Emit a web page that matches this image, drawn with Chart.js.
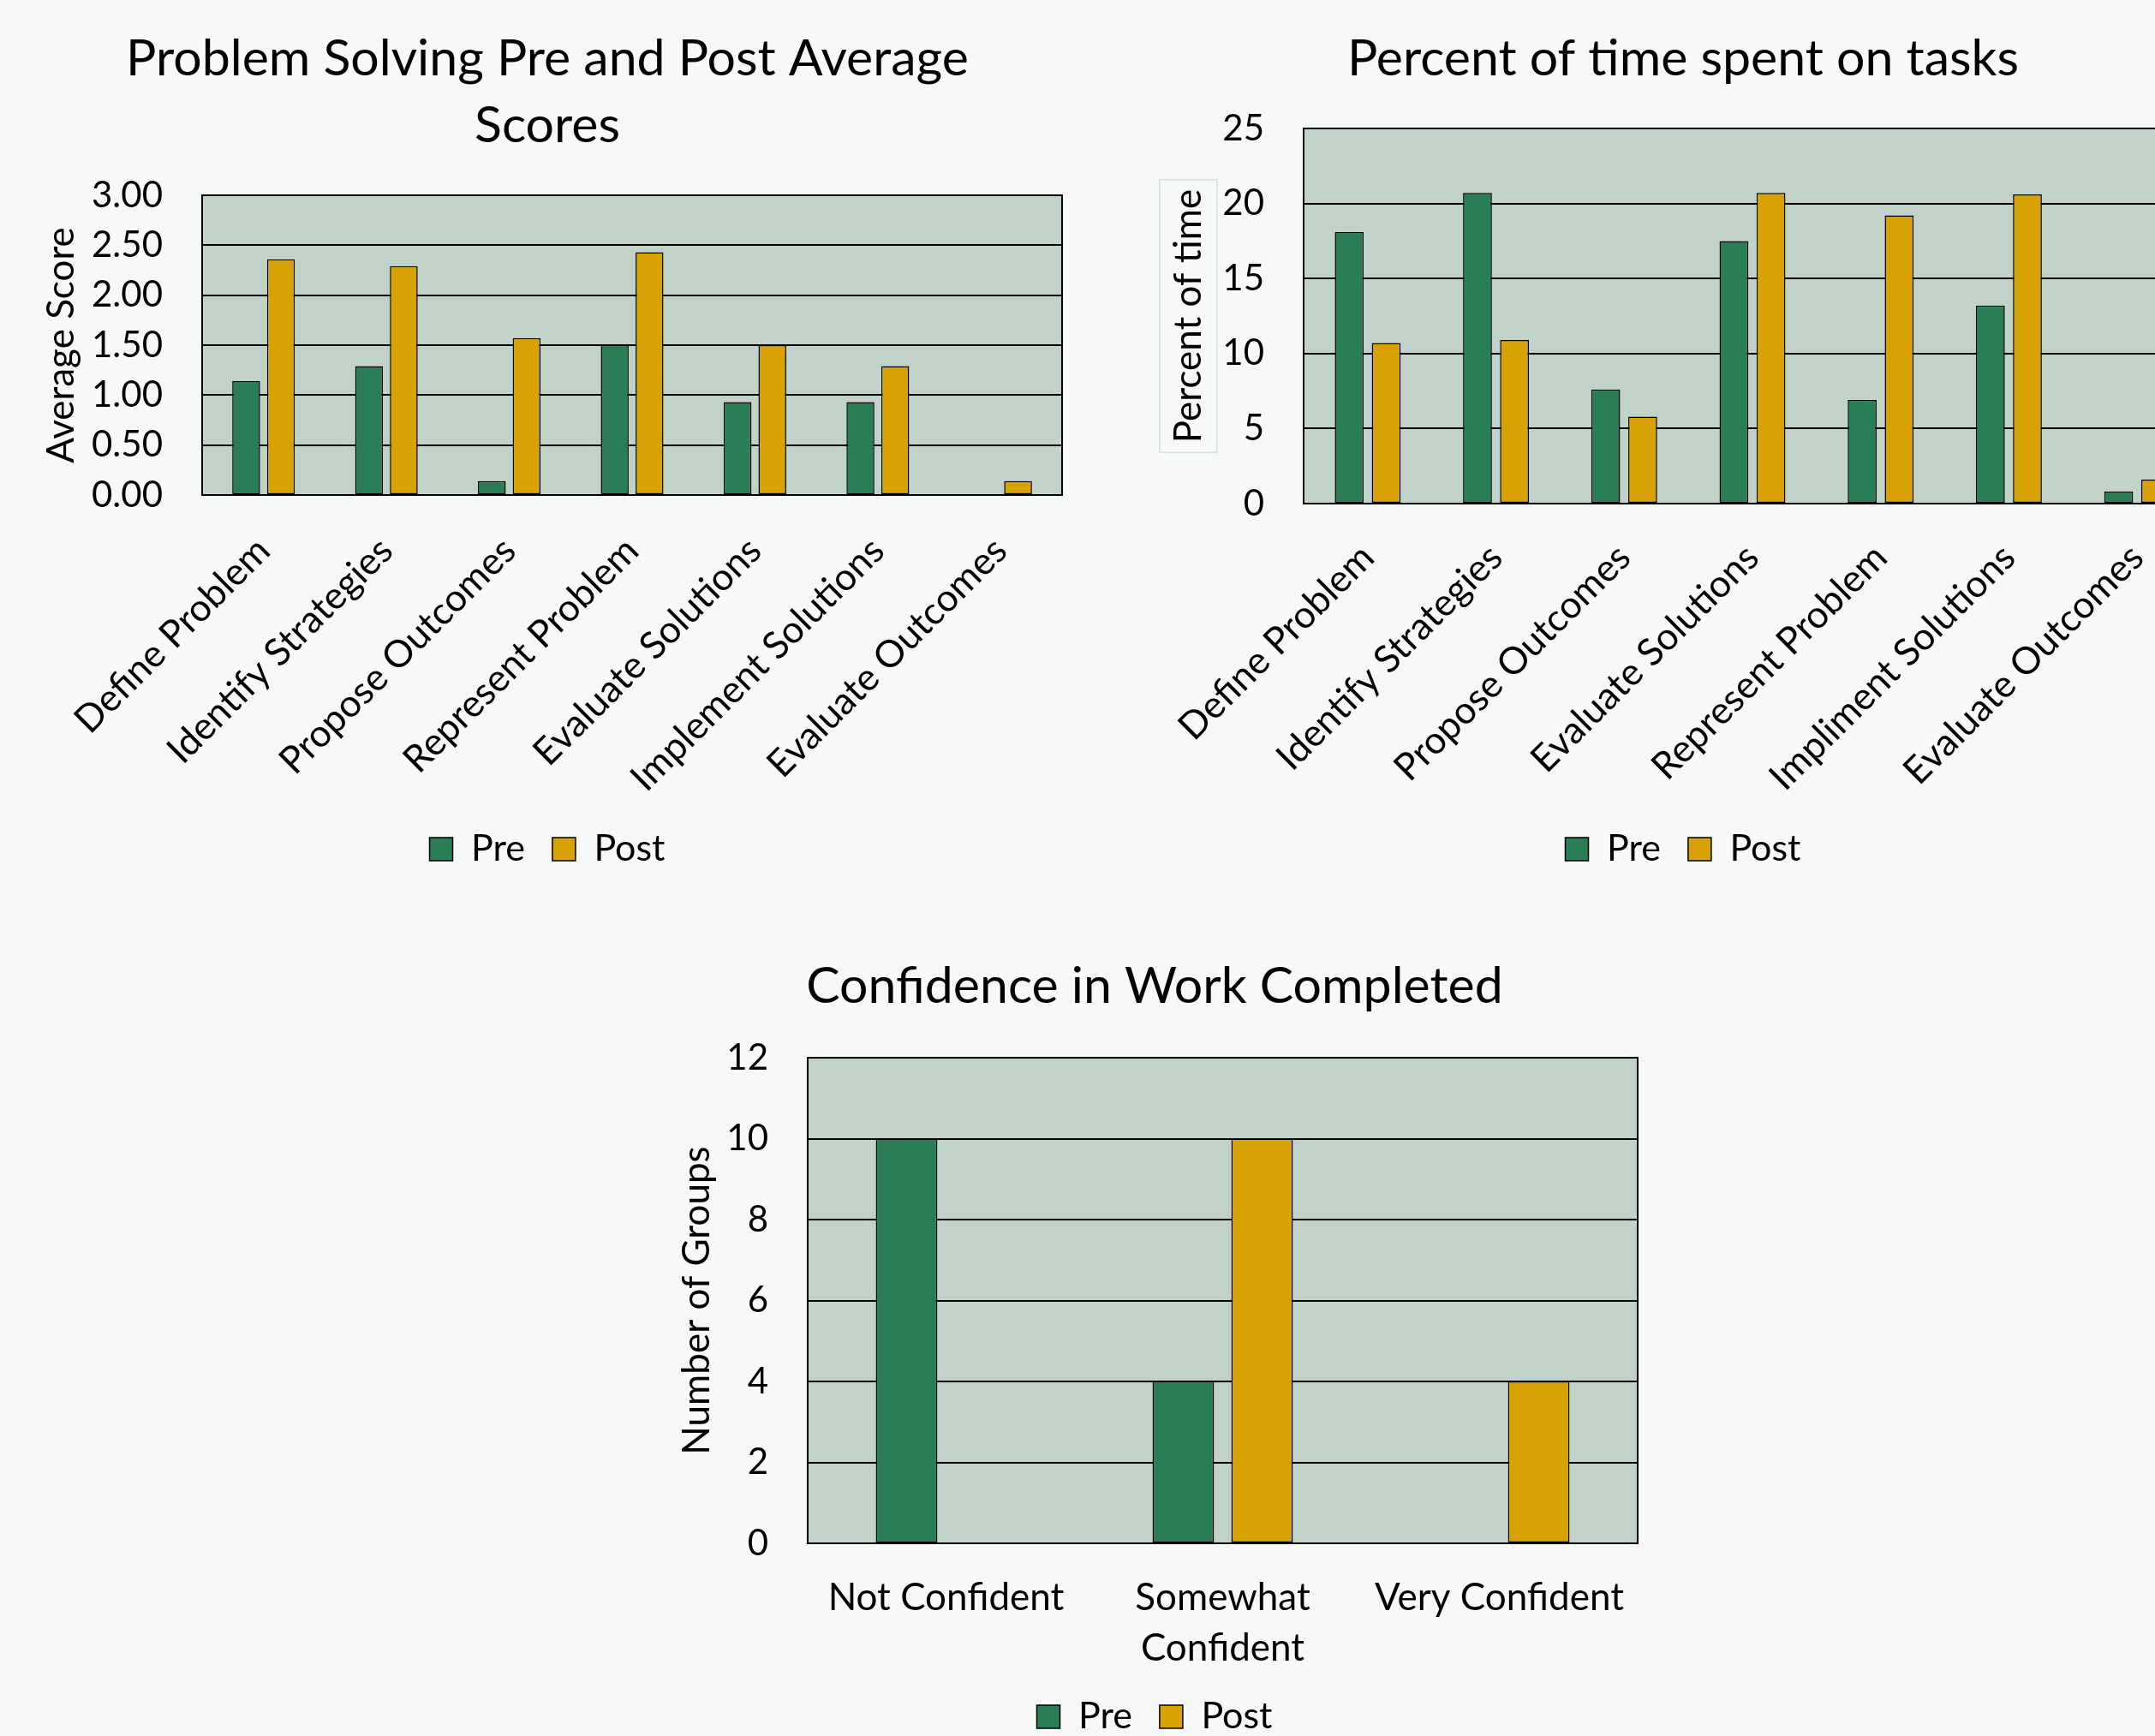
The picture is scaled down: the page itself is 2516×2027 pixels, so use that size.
<!DOCTYPE html>
<html>
<head>
<meta charset="utf-8">
<script src="https://cdn.jsdelivr.net/npm/chart.js@4.4.1/dist/chart.umd.min.js"></script>
<style>
  html, body { margin: 0; padding: 0; width: 2516px; height: 2027px; overflow: hidden; background: #f7f9f8; }
  .panel { position: absolute; }
  canvas { display: block; }
</style>
</head>
<body>
<div class="panel" style="left:0px;top:0px"><canvas id="scores" width="1278" height="1023"></canvas></div>
<div class="panel" style="left:1340px;top:0px"><canvas id="time" width="1250" height="1023"></canvas></div>
<div class="panel" style="left:740px;top:1060px"><canvas id="confidence" width="1216" height="976"></canvas></div>
<script>
// Problem solving: average scores before and after
const problemSteps = ['Define Problem', 'Identify Strategies', 'Propose Outcomes', 'Represent Problem',
  'Evaluate Solutions', 'Implement Solutions', 'Evaluate Outcomes'];
const scorePre  = [1.14, 1.29, 0.14, 1.50, 0.93, 0.93, 0];
const scorePost = [2.36, 2.29, 1.57, 2.43, 1.50, 1.29, 0.14];
const scoreTickLabels = ['0.00', '0.50', '1.00', '1.50', '2.00', '2.50', '3.00'];

// Share of time spent on each task
const taskNames = ['Define Problem', 'Identify Strategies', 'Propose Outcomes', 'Evaluate Solutions',
  'Represent Problem', 'Impliment Solutions', 'Evaluate Outcomes'];
const timePre  = [18.1, 20.7, 7.6, 17.5, 6.9, 13.2, 0.8];
const timePost = [10.7, 10.9, 5.8, 20.7, 19.2, 20.6, 1.6];
const timeTickLabels = ['0', '5', '10', '15', '20', '25'];

// Confidence in the finished work
const confidenceLevels = ['Not Confident', ['Somewhat', 'Confident'], 'Very Confident'];
const groupsPre  = [10, 4, 0];
const groupsPost = [0, 10, 4];
const groupTickLabels = ['0', '2', '4', '6', '8', '10', '12'];

const FONT = 'Lato, "Open Sans", sans-serif';
const PRE_COLOR = '#297e55';
const POST_COLOR = '#d8a104';
const PLOT_BG = '#c1d3c8';
const LABEL_SIZE = 44;

// Shaded plot area with a black frame
const plotFrame = {
  id: 'plotFrame',
  beforeDraw(chart) {
    const { ctx, chartArea: a } = chart;
    ctx.save();
    ctx.fillStyle = PLOT_BG;
    ctx.fillRect(a.left, a.top, a.right - a.left, a.bottom - a.top);
    ctx.restore();
  },
  afterDatasetsDraw(chart) {
    const { ctx, chartArea: a } = chart;
    ctx.save();
    ctx.strokeStyle = '#000';
    ctx.lineWidth = 2;
    ctx.strokeRect(Math.round(a.left), Math.round(a.top), Math.round(a.right - a.left), Math.round(a.bottom - a.top));
    ctx.restore();
  }
};

// Thin outline drawn around the y axis title
const axisTitleBox = {
  id: 'axisTitleBox',
  afterDraw(chart, args, opts) {
    if (!opts || !opts.enabled) return;
    const s = chart.scales.y;
    const ctx = chart.ctx;
    ctx.save();
    ctx.font = opts.size + 'px ' + FONT;
    const w = ctx.measureText(opts.text).width;
    const cx = s.left + opts.pad + opts.size * 0.6;
    const cy = (chart.chartArea.top + chart.chartArea.bottom) / 2;
    ctx.strokeStyle = '#d6e0dc';
    ctx.lineWidth = 1.5;
    ctx.strokeRect(cx - 33.5, cy - w / 2 - 11, 67, w + 22);
    ctx.restore();
  }
};

function makeBarChart(id, cfg) {
  const dataset = (label, data, color) => ({
    label, data,
    backgroundColor: color,
    borderColor: '#000',
    borderWidth: 1.5,
    borderSkipped: false,
    barPercentage: cfg.barPct,
    categoryPercentage: cfg.catPct
  });
  return new Chart(document.getElementById(id), {
    type: 'bar',
    data: {
      labels: cfg.labels,
      datasets: [dataset('Pre', cfg.pre, PRE_COLOR), dataset('Post', cfg.post, POST_COLOR)]
    },
    options: {
      responsive: false,
      animation: false,
      layout: { padding: 0 },
      plugins: {
        title: {
          display: true, text: cfg.title, color: '#000',
          font: { family: FONT, size: 59, weight: 'normal', lineHeight: 78 / 59 },
          padding: { top: cfg.titleTop, bottom: cfg.titleBottom }
        },
        legend: {
          position: 'bottom',
          labels: { color: '#000', font: { family: FONT, size: 43 }, boxWidth: 27, boxHeight: 27, padding: 32 }
        },
        tooltip: { enabled: false },
        axisTitleBox: { enabled: !!cfg.titleBox, text: cfg.yTitle, size: LABEL_SIZE, pad: cfg.yTitlePad }
      },
      scales: {
        x: {
          grid: { display: false },
          border: { display: false },
          ticks: {
            color: '#000', font: { family: FONT, size: LABEL_SIZE, lineHeight: 1.33 },
            padding: cfg.xPad, minRotation: cfg.rot, maxRotation: cfg.rot, autoSkip: false
          },
          afterFit(s) {
            s.height = cfg.xHeight;
            s.paddingLeft = 0;
            s.paddingRight = 0;
          }
        },
        y: {
          min: 0, max: cfg.max,
          grid: { color: '#000', lineWidth: 2, drawTicks: false },
          border: { display: false },
          ticks: {
            stepSize: cfg.step, color: '#000', font: { family: FONT, size: 42 }, padding: 46,
            callback: (v, i) => cfg.tickLabels[i]
          },
          title: {
            display: true, text: cfg.yTitle, color: '#000',
            font: { family: FONT, size: LABEL_SIZE, lineHeight: 1.2 },
            padding: { top: cfg.yTitlePad, bottom: 0 }
          },
          afterFit(s) { s.width = cfg.yWidth; }
        },
        edge: {
          type: 'linear', position: 'right', display: true,
          grid: { display: false }, border: { display: false }, ticks: { display: false },
          afterFit(s) { s.width = cfg.rightPad; }
        }
      }
    },
    plugins: [plotFrame, axisTitleBox]
  });
}

makeBarChart('scores', {
  labels: problemSteps, pre: scorePre, post: scorePost,
  title: ['Problem Solving Pre and Post Average', 'Scores'],
  titleTop: 30, titleBottom: 42,
  yTitle: 'Average Score', yTitlePad: 45, yWidth: 236, rightPad: 38,
  max: 3, step: 0.5, tickLabels: scoreTickLabels,
  xHeight: 360, xPad: 29, rot: 45,
  barPct: 0.8, catPct: 0.566
});

makeBarChart('time', {
  labels: taskNames, pre: timePre, post: timePost,
  title: 'Percent of time spent on tasks',
  titleTop: 30, titleBottom: 42,
  yTitle: 'Percent of time', yTitlePad: 21, yWidth: 182, rightPad: 20, titleBox: true,
  max: 25, step: 5, tickLabels: timeTickLabels,
  xHeight: 350, xPad: 27, rot: 45,
  barPct: 0.78, catPct: 0.577
});

makeBarChart('confidence', {
  labels: confidenceLevels, pre: groupsPre, post: groupsPost,
  title: 'Confidence in Work Completed',
  titleTop: 53, titleBottom: 44,
  yTitle: 'Number of Groups', yTitlePad: 47, yWidth: 203, rightPad: 44,
  max: 12, step: 2, tickLabels: groupTickLabels,
  xHeight: 149, xPad: 27, rot: 0,
  barPct: 0.78, catPct: 0.57
});
</script>
</body>
</html>
